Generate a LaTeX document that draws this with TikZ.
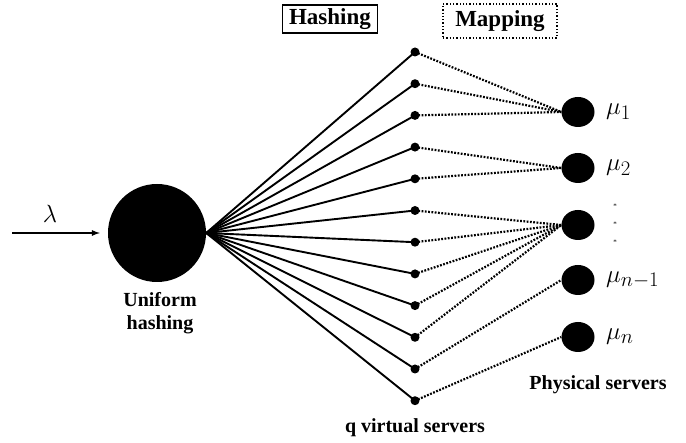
\documentclass[tikz,border=0pt]{standalone}
\usepackage{fontspec}
\setmainfont{Liberation Serif}
\usetikzlibrary{shapes,arrows,positioning}
\tikzstyle{vsrv}=[circle,fill=black,inner sep=0pt,minimum size=9pt]
\tikzstyle{psrv}=[ellipse,fill=black,inner sep=0pt,minimum width=33pt,minimum height=30pt]
\tikzstyle{lbl}=[font=\fontsize{20}{23}\selectfont\bfseries,align=center]
\tikzstyle{tag}=[font=\fontsize{23}{26}\selectfont\bfseries,line width=1.3pt]
\tikzstyle{hashlink}=[line width=1.9pt]
\tikzstyle{maplink}=[line width=2.2pt,dash pattern=on 1.8pt off 1.5pt]
\tikzstyle{arr}=[-latex,line width=1.7pt]

\begin{document}
\begin{tikzpicture}[x=1pt,y=-1pt]
\useasboundingbox (0,0) rectangle (686,443);
\node[circle,fill=black,minimum size=98pt,inner sep=0pt] (H) at (157,233) {};
\coordinate (in) at (12,233);
\node[lbl, inner sep=0pt] (U) at (160,313) {Uniform\\hashing};
\node[font=\Huge] (L) at (50,214) {$\lambda$};
% virtual servers
\foreach \i in {1,...,12}
  \node[vsrv] (v\i) at (415,{20.3+31.7*\i}) {};
% physical servers
\node[psrv] (s1) at (578,112) {};
\node[psrv] (s2) at (578,168) {};
\node[psrv] (s3) at (578,225) {};
\node[psrv] (s4) at (578,280) {};
\node[psrv] (s5) at (578,337) {};
\node[font=\Huge, right=8pt of s1] (m1) {$\mu_1$};
\node[font=\Huge, right=8pt of s2] (m2) {$\mu_2$};
\node[font=\Huge, right=8pt of s4] (m4) {$\mu_{n-1}$};
\node[font=\Huge, right=8pt of s5] (m5) {$\mu_n$};
\node[font=\scriptsize, align=center, inner sep=0pt] (st) at (615,224) {*\\[10pt]*\\[10pt]*};
\node[lbl] (P) at (598,385) {Physical servers};
\node[lbl] (Q) at (415,428) {q virtual servers};
\node[tag, draw, minimum width=95pt, minimum height=28pt] (B1) at (330,19) {Hashing};
\node[tag, draw, dotted, minimum width=114pt, minimum height=34pt] (B2) at (500,21) {Mapping};
\draw[arr, shorten >=8pt] (in) -- (H.west);
\foreach \i in {1,...,12}
  \draw[hashlink] (H.east) -- (v\i.center);
\foreach \i/\j in {1/1,2/1,3/1,4/2,5/2,6/3,7/3,8/3,9/3,10/3,11/4,12/5}
  \draw[maplink] (v\i.center) -- (s\j.west);
\end{tikzpicture}
\end{document}
